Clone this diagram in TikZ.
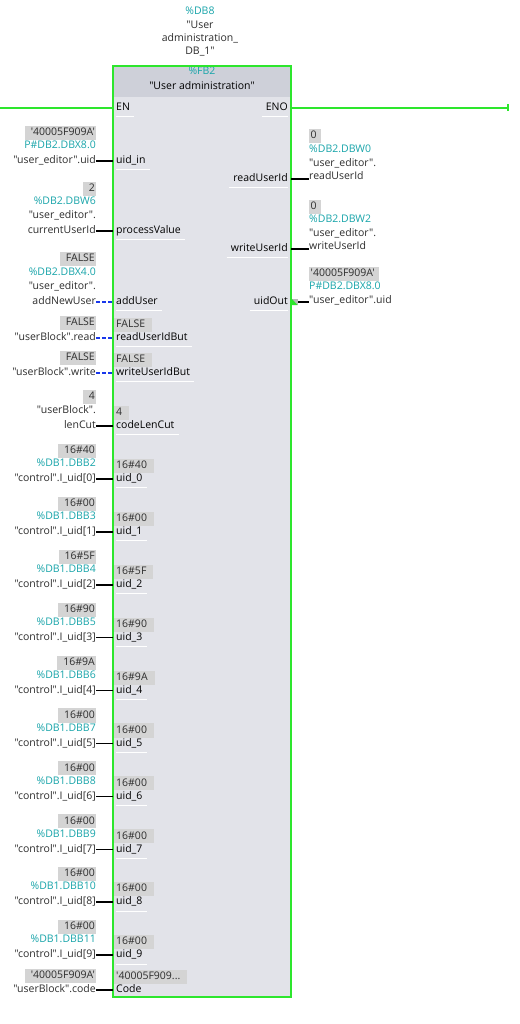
\documentclass[tikz,border=0pt]{standalone}
\usepackage{fontspec}
\setmainfont{Open Sans}[Ligatures=TeXOff]
\definecolor{tiagreen}{RGB}{45,230,45}
\definecolor{tealtxt}{RGB}{25,165,170}
\definecolor{valgray}{RGB}{212,212,212}
\definecolor{bodyfill}{RGB}{226,227,233}
\definecolor{headfill}{RGB}{206,208,217}
\definecolor{txt}{RGB}{45,45,45}
\definecolor{dblue}{RGB}{25,55,235}
\begin{document}
\begin{tikzpicture}[x=1pt,y=-1pt,
  every node/.style={inner sep=0pt, font=\fontsize{10.5}{12}\selectfont, text=txt, text height=7.5pt, text depth=2pt},
  opl/.style={anchor=east},
  opr/.style={anchor=west},
  adr/.style={text=tealtxt},
  lval/.style={anchor=east, fill=valgray, inner ysep=2.3pt, inner xsep=1pt, execute at begin node={\hspace{5pt}}},
  rval/.style={anchor=west, fill=valgray, inner ysep=2.3pt, inner xsep=1.5pt, execute at end node={\hspace{3pt}}},
  ival/.style={anchor=west, fill=valgray, inner ysep=2.3pt, inner xsep=2pt, execute at end node={\hspace{5pt}}},
  pinl/.style={anchor=west, text=black},
  pinr/.style={anchor=east, text=black},
  wire/.style={line width=1.5pt, black},
  bwire/.style={line width=1.5pt, dblue, dash pattern=on 4pt off 2pt},
  pwr/.style={line width=2pt, tiagreen},
  uline/.style={white, line width=1pt}
]
\useasboundingbox (0,0) rectangle (519,1024);
\fill[white] (0,0) rectangle (519,1024);

% instance title
\node[adr] (t0) at (200,12) {\%DB8};
\node (t1) at (200,26) {"User};
\node (t2) at (200,39) {administration\_};
\node (t3) at (200,52) {DB\_1"};

% block
\node[minimum width=178pt, minimum height=931pt, anchor=north west, text height=, text depth=] (fb) at (113,66) {};
\fill[bodyfill] (fb.north west) rectangle (fb.south east);
\fill[headfill] (fb.north west) rectangle (291,97);
\node[adr] (fbn) at (202,72) {\%FB2};
\node[text=black] (fbt) at (202,87) {"User administration"};
\draw[pwr] (fb.north west) rectangle (fb.south east);

% power rail
\coordinate (railL) at (0,108);
\coordinate (railR) at (508,108);
\node[pinl] (en) at (116,108) {EN};
\node[pinr] (eno) at (288,108) {ENO};
\draw[pwr] (railL) -- (railL -| fb.west);
\draw[pwr] (railR -| fb.east) -- (railR);
\draw[tiagreen, line width=1.5pt] ([yshift=3.5pt]railR) -- ([yshift=-3.5pt]railR);

% ---------- left inputs ----------
% uid_in
\node[lval] (v1) at (96,133) {'40005F909A'};
\node[opl, adr] (a1) at (96,146) {P\#DB2.DBX8.0};
\node[opl] (o1) at (96,161) {"user\_editor".uid};
\node[pinl] (p1) at (116,161) {uid\_in};
\draw[wire] (o1.east) -- (o1.east -| fb.west);

% processValue
\node[lval] (v2) at (96,189) {2};
\node[opl, adr] (a2) at (96,202) {\%DB2.DBW6};
\node[opl] (o2a) at (96,216) {"user\_editor".};
\node[opl] (o2) at (96,231) {currentUserId};
\node[pinl] (p2) at (116,231) {processValue};
\draw[wire] (o2.east) -- (o2.east -| fb.west);

% addUser
\node[lval] (v3) at (96,259) {FALSE};
\node[opl, adr] (a3) at (96,273) {\%DB2.DBX4.0};
\node[opl] (o3a) at (96,287) {"user\_editor".};
\node[opl] (o3) at (96,302) {addNewUser};
\node[pinl] (p3) at (116,302) {addUser};
\draw[bwire] (o3.east) -- (o3.east -| fb.west);

% readUserIdBut
\node[lval] (v4) at (96,323) {FALSE};
\node[opl] (o4) at (96,338) {"userBlock".read};
\node[ival] (i4) at (114,325) {FALSE};
\node[pinl] (p4) at (116,338) {readUserIdBut};
\draw[bwire] (o4.east) -- (o4.east -| fb.west);

% writeUserIdBut
\node[lval] (v5) at (96,358) {FALSE};
\node[opl] (o5) at (96,373) {"userBlock".write};
\node[ival] (i5) at (114,360) {FALSE};
\node[pinl] (p5) at (116,373) {writeUserIdBut};
\draw[bwire] (o5.east) -- (o5.east -| fb.west);

% codeLenCut
\node[lval] (v6) at (96,397) {4};
\node[opl] (o6a) at (96,411) {"userBlock".};
\node[opl] (o6) at (96,426) {lenCut};
\node[ival] (i6) at (114,413) {4};
\node[pinl] (p6) at (116,426) {codeLenCut};
\draw[wire] (o6.east) -- (o6.east -| fb.west);

% uid_0 .. uid_9
\foreach \k/\v/\a in {0/40/2,1/00/3,2/5F/4,3/90/5,4/9A/6,5/00/7,6/00/8,7/00/9,8/00/10,9/00/11}{
  \pgfmathsetmacro\yy{479+52.9*\k}
  \node[lval] (uv\k) at (96,\yy-28) {16\#\v};
  \node[opl, adr] (ua\k) at (96,\yy-15) {\%DB1.DBB\a};
  \node[opl] (uo\k) at (96,\yy) {"control".I\_uid[\k]};
  \node[ival] (ui\k) at (114,\yy-13) {16\#\v};
  \node[pinl] (up\k) at (116,\yy) {uid\_\k};
  \draw[wire] (uo\k.east) -- (uo\k.east -| fb.west);
  \draw[uline] ([yshift=-4pt]up\k.south west) -- ([yshift=-4pt,xshift=4pt]up\k.south east);
}

% Code
\node[lval] (v7) at (96,976) {'40005F909A'};
\node[opl] (o7) at (96,990) {"userBlock".code};
\node[ival] (i7) at (114,977) {'40005F909...};
\node[pinl] (p7) at (116,990) {Code};
\draw[wire] (o7.east) -- (o7.east -| fb.west);

% underlines
\foreach \p in {en,p1,p2,p3,p4,p5,p6}{
  \draw[uline] ([yshift=-4pt]\p.south west) -- ([yshift=-4pt,xshift=4pt]\p.south east);
}
\foreach \p in {eno}{
  \draw[uline] ([yshift=-4pt,xshift=-4pt]\p.south west) -- ([yshift=-4pt]\p.south east);
}

% ---------- right outputs ----------
% readUserId
\node[pinr] (q1) at (288,179) {readUserId};
\node[rval] (rv1) at (309,136) {0};
\node[opr, adr] (ra1) at (309,150) {\%DB2.DBW0};
\node[opr] (ro1a) at (309,164) {"user\_editor".};
\node[opr] (ro1) at (309,177) {readUserId};
\draw[wire] (q1.east -| fb.east) -- (q1.east -| ro1.west);

% writeUserId
\node[pinr] (q2) at (288,249) {writeUserId};
\node[rval] (rv2) at (309,207) {0};
\node[opr, adr] (ra2) at (309,220) {\%DB2.DBW2};
\node[opr] (ro2a) at (309,234) {"user\_editor".};
\node[opr] (ro2) at (309,247) {writeUserId};
\draw[wire] (q2.east -| fb.east) -- (q2.east -| ro2.west);

% uidOut
\node[pinr] (q3) at (288,302) {uidOut};
\node[rval] (rv3) at (309,274) {'40005F909A'};
\node[opr, adr] (ra3) at (309,287) {P\#DB2.DBX8.0};
\node[opr] (ro3) at (309,301) {"user\_editor".uid};
\draw[wire] (297,302) -- (q3.east -| ro3.west);
\fill[gray!55] (291.5,298.5) rectangle (297.5,305);
\fill[tiagreen] (291.5,298.5) -- (291.5,305) -- (297.5,305) -- cycle;

\foreach \p in {q1,q2,q3}{
  \draw[uline] ([yshift=-4pt,xshift=-4pt]\p.south west) -- ([yshift=-4pt]\p.south east);
}
\end{tikzpicture}
\end{document}
